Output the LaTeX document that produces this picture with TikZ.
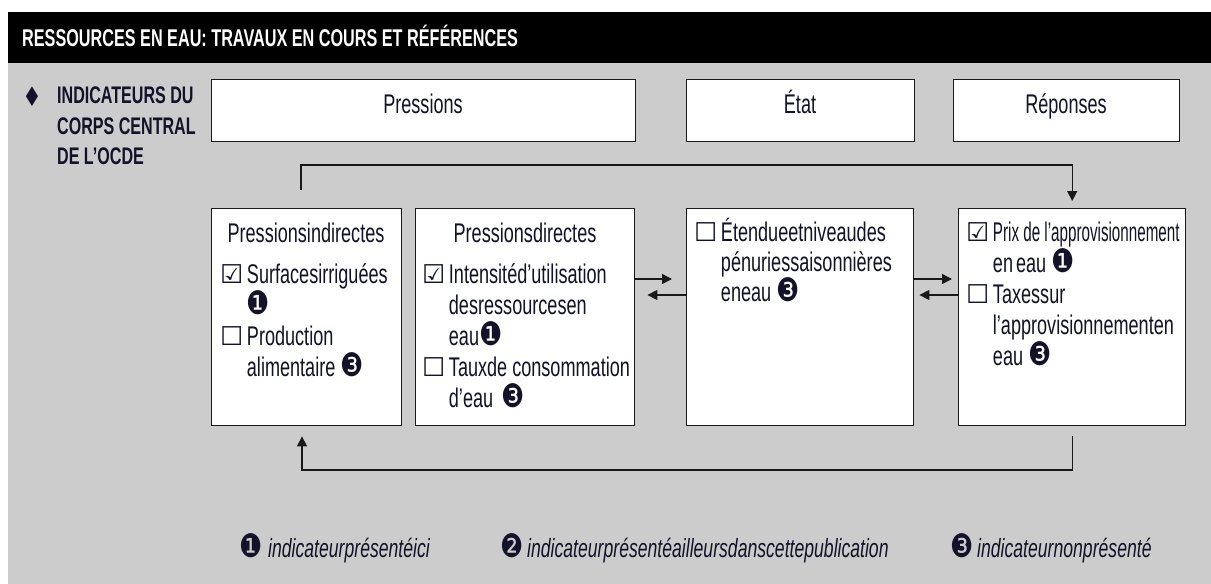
\documentclass[tikz,border=0pt]{standalone}
\usepackage{fontspec}
\setmainfont{Liberation Sans}[FakeStretch=0.67]
\newfontfamily\symf{DejaVu Sans}[Scale=0.96]
\newfontfamily\symn{DejaVu Sans}[Scale=1.2,FakeStretch=0.8]
\newfontfamily\symd{DejaVu Sans}[Scale=1.0,FakeStretch=0.8]
\usetikzlibrary{arrows.meta}
\definecolor{bg}{RGB}{204,204,204}
\definecolor{ink}{RGB}{18,18,40}
\newcommand\cbx{{\symf ☐}\hspace{3.5pt}}
\newcommand\cbk{{\symf ☑}\hspace{3.5pt}}
\newcommand\ind{\hphantom{\cbx}}
\newcommand\nA{{\symn ❶}}
\newcommand\nB{{\symn ❷}}
\newcommand\nC{{\symn ❸}}
\tikzset{
  panel/.style={draw=black!90, line width=1.4pt, fill=white, inner sep=0pt, anchor=north west},
  ln/.style={inner sep=0pt, anchor=base west, text=ink, font=\fontsize{27}{30}\selectfont},
  ttl/.style={inner sep=0pt, anchor=base, text=ink, font=\fontsize{27}{30}\selectfont},
  lbl/.style={inner sep=0pt, anchor=base west, text=ink, font=\fontsize{24}{30}\selectfont\bfseries},
  leg/.style={inner sep=0pt, anchor=base west, text=ink, font=\fontsize{26.3}{30}\selectfont\itshape},
  legn/.style={inner sep=0pt, anchor=base, text=ink, font=\fontsize{27}{30}\selectfont},
  arr/.style={line width=1.4pt, draw=black!90, -{Triangle[length=10pt,width=10pt]}},
}
\begin{document}
\begin{tikzpicture}[x=1pt,y=-1pt]
\useasboundingbox (0,0) rectangle (1211,584);
\fill[white] (0,0) rectangle (1211,584);
\fill[bg] (8,63) rectangle (1211,584);
\fill[black] (8,12) rectangle (1211,63);
\node[inner sep=0pt, anchor=base west, text=white, font=\fontsize{24.2}{30}\selectfont\bfseries] (title) at (22,46) {RESSOURCES EN EAU: TRAVAUX EN COURS ET RÉFÉRENCES};

% left label
\node[inner sep=0pt, text=ink, font=\fontsize{27}{30}\selectfont] (bullet) at (32,97) {\symd ♦};
\node[lbl] (l1) at (57,103) {INDICATEURS DU};
\node[lbl] (l2) at (57,134) {CORPS CENTRAL};
\node[lbl] (l3) at (57,164) {DE L’OCDE};

% header boxes
\node[panel, minimum width=424pt, minimum height=62pt] (hp) at (211,79) {};
\node[panel, minimum width=228pt, minimum height=62pt] (he) at (686,79) {};
\node[panel, minimum width=226pt, minimum height=62pt] (hr) at (953,79) {};
\node[ttl] (hpt) at (423,113) {Pressions};
\node[ttl] (het) at (800,113) {État};
\node[ttl] (hrt) at (1066,113) {Réponses};

% main boxes
\node[panel, minimum width=190pt, minimum height=217pt] (b1) at (211,208) {};
\node[panel, minimum width=219pt, minimum height=217pt] (b2) at (415,208) {};
\node[panel, minimum width=227pt, minimum height=217pt] (b3) at (686,208) {};
\node[panel, minimum width=227pt, minimum height=217pt] (b4) at (958,208) {};

% box 1
\node[ttl] (b1t) at (306,242) {Pressionsindirectes};
\node[ln] (b1a) at (220,283) {\cbk Surfacesirriguées};
\node[ln] (b1b) at (220,314) {\ind\nA};
\node[ln] (b1c) at (220,345) {\cbx Production};
\node[ln] (b1d) at (220,376) {\ind alimentaire \nC};

% box 2
\node[ttl] (b2t) at (525,242) {Pressionsdirectes};
\node[ln] (b2a) at (422,283) {\cbk Intensitéd’utilisation};
\node[ln] (b2b) at (422,314) {\ind desressourcesen};
\node[ln] (b2c) at (422,345) {\ind eau\nA};
\node[ln] (b2d) at (422,376) {\cbx Tauxde consommation};
\node[ln] (b2e) at (422,407) {\ind d’eau\hspace{8pt}\nC};

% box 3
\node[ln] (b3a) at (694,241) {\cbx Étendueetniveaudes};
\node[ln] (b3b) at (694,271) {\ind pénuriessaisonnières};
\node[ln] (b3c) at (694,301) {\ind eneau \nC};

% box 4
\node[ln] (b4a) at (966,241) {\cbk \scalebox{0.84}[1]{Prix de l’approvisionnement}};
\node[ln] (b4b) at (966,272) {\ind en\hspace{3pt}eau \nA};
\node[ln] (b4c) at (966,303) {\cbx Taxessur};
\node[ln] (b4d) at (966,334) {\ind l’approvisionnementen};
\node[ln] (b4e) at (966,365) {\ind eau \nC};

% arrows between boxes
\draw[arr, shorten >=14pt] (b2.east |- 0,279) -- (b3.west |- 0,279);
\draw[arr, shorten >=12pt] (b3.west |- 0,295) -- (b2.east |- 0,295);
\draw[arr, shorten >=6pt] (b3.east |- 0,279) -- (b4.west |- 0,279);
\draw[arr, shorten >=5pt] (b4.west |- 0,295) -- (b3.east |- 0,295);

% feedback loops
\draw[arr, shorten <=18pt, shorten >=7pt] (b1.north -| 301,0) |- (b4.north |- 0,165) -- (b4.north);
\draw[arr, shorten <=10pt, shorten >=10pt] (b4.south) |- (302,470) -- (b1.south -| 302,0);

% legend
\node[legn] (k1) at (251,557) {\nA};
\node[leg] (k1t) at (268,557) {indicateurprésentéici};
\node[legn] (k2) at (512,557) {\nB};
\node[leg] (k2t) at (527,557) {indicateurprésentéailleursdanscettepublication};
\node[legn] (k3) at (962,557) {\nC};
\node[leg] (k3t) at (977,557) {indicateurnonprésenté};
\end{tikzpicture}
\end{document}
